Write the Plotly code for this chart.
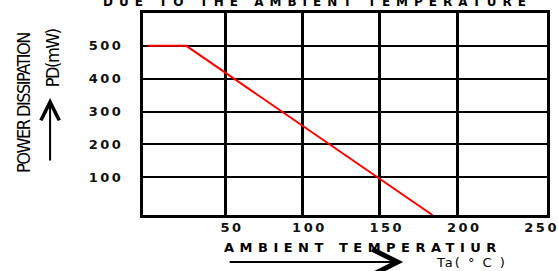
import plotly.graph_objects as go

# ---- data ----
temperature = [0, 25, 184]          # Ta (deg C)
power = [500, 500, -15]             # PD (mW)
x_tick_values = [50, 100, 150, 200, 250]
x_tick_labels = ["50", "100", "150", "200", "250"]
x_grid_values = [50, 100, 150, 200]
y_tick_values = [100, 200, 300, 400, 500]
y_tick_labels = ["100", "200", "300", "400", "500"]

X_RANGE = [-3, 258]
Y_RANGE = [-15, 600]

def spaced(t, px):
    return f"<span style='letter-spacing:{px}px'>{t}</span>"

fig = go.Figure()
fig.add_trace(go.Scatter(
    x=temperature, y=power, mode="lines",
    line=dict(color="#ff0000", width=2),
    hoverinfo="skip", showlegend=False,
))

tick_font = dict(family="DejaVu Sans", size=13, color="#111111", weight="bold")

fig.update_layout(
    width=558, height=271, autosize=False,
    margin=dict(l=143, r=11, t=13, b=56, pad=0),
    paper_bgcolor="white", plot_bgcolor="white",
    showlegend=False,
    xaxis=dict(
        range=X_RANGE, tickmode="array", tickvals=x_tick_values,
        ticktext=[spaced(t, 2.5) for t in x_tick_labels],
        ticks="", tickfont=tick_font, ticklabelshift=7, ticklabelstandoff=-2,
        ticklabeloverflow="allow",
        showgrid=False,
        minor=dict(tickmode="array", tickvals=x_grid_values, ticks="",
                   showgrid=True, gridcolor="black", gridwidth=3),
        zeroline=False, showline=True, linecolor="black", linewidth=3, mirror=True,
        automargin=False,
    ),
    yaxis=dict(
        range=Y_RANGE, tickmode="array", tickvals=y_tick_values,
        ticktext=[spaced(t, 2.5) for t in y_tick_labels],
        ticks="", tickfont=tick_font, ticklabelstandoff=14,
        showgrid=True, gridcolor="black", gridwidth=2,
        zeroline=False, showline=True, linecolor="black", linewidth=3, mirror=True,
        automargin=False,
    ),
)

# cut-off heading at the very top
fig.add_annotation(
    text=spaced("DUE TO THE AMBIENT TEMPERATURE", 6),
    xref="paper", yref="paper", x=0.433, y=1.012, xanchor="center", yanchor="bottom",
    showarrow=False, font=dict(family="DejaVu Sans", size=12, color="black", weight="bold"),
)

# y-axis title
fig.add_annotation(
    text=spaced("POWER DISSIPATION", -1.5),
    xref="paper", yref="paper", x=-0.297, y=0.554, xanchor="center", yanchor="middle",
    textangle=-90, showarrow=False,
    font=dict(family="Liberation Sans Narrow, DejaVu Sans Condensed, sans-serif", size=18, color="black"),
)
fig.add_annotation(
    text=spaced("PD(mW)", -1.5),
    xref="paper", yref="paper", x=-0.225, y=0.777, xanchor="center", yanchor="middle",
    textangle=-90, showarrow=False,
    font=dict(family="Liberation Sans Narrow, DejaVu Sans Condensed, sans-serif", size=18, color="black"),
)
fig.add_annotation(
    text="", xref="paper", yref="paper", x=-0.230, y=0.579,
    ax=0, ay=64, showarrow=True, arrowhead=5, arrowwidth=2, arrowsize=1.8,
    arrowcolor="black", standoff=0,
)

# x-axis title
fig.add_annotation(
    text=spaced("AMBIENT TEMPERATIUR", 5.5),
    xref="paper", yref="paper", x=0.545, y=-0.163, xanchor="center", yanchor="middle",
    showarrow=False, font=dict(family="DejaVu Sans", size=13, color="black", weight="bold"),
)
fig.add_annotation(
    text="", xref="paper", yref="paper", x=0.644, y=-0.233,
    ax=-175, ay=0, showarrow=True, arrowhead=5, arrowwidth=2, arrowsize=2.5,
    arrowcolor="black", standoff=0,
)
fig.add_annotation(
    text=spaced("Ta( ° C )", 2),
    xref="paper", yref="paper", x=0.812, y=-0.233, xanchor="center", yanchor="middle",
    showarrow=False, font=dict(family="DejaVu Sans", size=13, color="black"),
)

fig.write_html(
    "out.html",
    config={"displayModeBar": False},
    post_script="document.body.style.margin='0';document.body.style.overflow='hidden';",
)
